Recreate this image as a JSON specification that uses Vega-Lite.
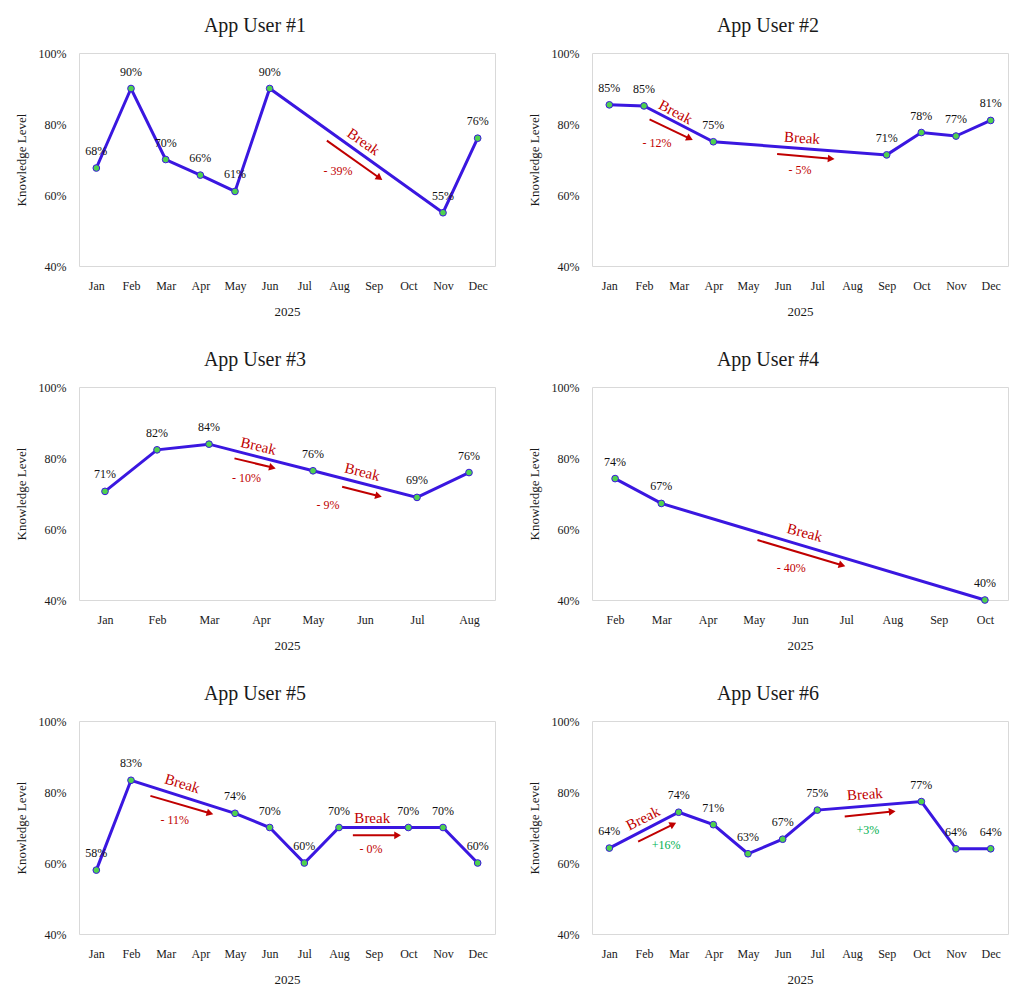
{
"$schema": "https://vega.github.io/schema/vega-lite/v6.json",
"padding": {"left": 14, "top": 15, "right": 14, "bottom": 4},
"background": "white",
"datasets": {
"pts": [
{"user":1,"m":0,"v":0.676},{"user":1,"m":1,"v":0.90},{"user":1,"m":2,"v":0.70},{"user":1,"m":3,"v":0.656},{"user":1,"m":4,"v":0.61},{"user":1,"m":5,"v":0.90},{"user":1,"m":10,"v":0.55},{"user":1,"m":11,"v":0.76},
{"user":2,"m":0,"v":0.854},{"user":2,"m":1,"v":0.851},{"user":2,"m":3,"v":0.75},{"user":2,"m":8,"v":0.713},{"user":2,"m":9,"v":0.776},{"user":2,"m":10,"v":0.766},{"user":2,"m":11,"v":0.81},
{"user":3,"m":0,"v":0.706},{"user":3,"m":1,"v":0.823},{"user":3,"m":2,"v":0.839},{"user":3,"m":4,"v":0.764},{"user":3,"m":6,"v":0.689},{"user":3,"m":7,"v":0.759},
{"user":4,"m":1,"v":0.742},{"user":4,"m":2,"v":0.672},{"user":4,"m":9,"v":0.40},
{"user":5,"m":0,"v":0.58},{"user":5,"m":1,"v":0.833},{"user":5,"m":4,"v":0.74},{"user":5,"m":5,"v":0.70},{"user":5,"m":6,"v":0.60},{"user":5,"m":7,"v":0.70},{"user":5,"m":9,"v":0.70},{"user":5,"m":10,"v":0.70},{"user":5,"m":11,"v":0.60},
{"user":6,"m":0,"v":0.642},{"user":6,"m":2,"v":0.743},{"user":6,"m":3,"v":0.708},{"user":6,"m":4,"v":0.626},{"user":6,"m":5,"v":0.667},{"user":6,"m":6,"v":0.749},{"user":6,"m":9,"v":0.773},{"user":6,"m":10,"v":0.64},{"user":6,"m":11,"v":0.64}
],
"ann": [
{"user":1,"id":"1a","x1":6.65,"y1":0.753,"x2":8.17,"y2":0.648,"bx":7.71,"by":0.75,"lx":6.97,"ly":0.668,"label":"- 39%","dir":"down"},
{"user":2,"id":"2a","x1":1.16,"y1":0.813,"x2":2.32,"y2":0.759,"bx":1.91,"by":0.834,"lx":1.375,"ly":0.747,"label":"- 12%","dir":"down"},
{"user":2,"id":"2b","x1":4.84,"y1":0.7155,"x2":6.40,"y2":0.702,"bx":5.56,"by":0.761,"lx":5.5,"ly":0.6695,"label":"- 5%","dir":"down"},
{"user":3,"id":"3a","x1":2.49,"y1":0.799,"x2":3.22,"y2":0.773,"bx":2.95,"by":0.834,"lx":2.72,"ly":0.744,"label":"- 10%","dir":"down"},
{"user":3,"id":"3b","x1":4.56,"y1":0.719,"x2":5.26,"y2":0.693,"bx":4.95,"by":0.761,"lx":4.29,"ly":0.667,"label":"- 9%","dir":"down"},
{"user":4,"id":"4a","x1":4.08,"y1":0.569,"x2":5.91,"y2":0.498,"bx":5.1,"by":0.59,"lx":4.81,"ly":0.49,"label":"- 40%","dir":"down"},
{"user":5,"id":"5a","x1":1.56,"y1":0.789,"x2":3.28,"y2":0.74,"bx":2.48,"by":0.824,"lx":2.26,"ly":0.721,"label":"- 11%","dir":"down"},
{"user":5,"id":"5b","x1":7.40,"y1":0.678,"x2":8.69,"y2":0.678,"bx":7.96,"by":0.726,"lx":7.92,"ly":0.6385,"label":"- 0%","dir":"down"},
{"user":6,"id":"6a","x1":0.83,"y1":0.66,"x2":1.84,"y2":0.709,"bx":0.97,"by":0.726,"lx":1.64,"ly":0.65,"label":"+16%","dir":"up"},
{"user":6,"id":"6b","x1":6.79,"y1":0.731,"x2":8.16,"y2":0.745,"bx":7.37,"by":0.794,"lx":7.46,"ly":0.693,"label":"+3%","dir":"up"}
]
},
"columns": 2,
"spacing": {"row": 30, "column": 31},
"concat": [
{
"title": "App User #1", "width": 416, "height": 213,
"layer": [
{"data":{"name":"pts"},"transform":[{"filter":"datum.user == 1"}],"mark":{"type":"line","color":"#3a17e0","strokeWidth":3},
 "encoding":{"x":{"field":"m","type":"quantitative","scale":{"domain":[-0.5,11.5],"nice":false},"axis":{"values":[0,1,2,3,4,5,6,7,8,9,10,11],"labelOverlap":false,"labelFlush":false,"labelExpr":"['Jan','Feb','Mar','Apr','May','Jun','Jul','Aug','Sep','Oct','Nov','Dec'][datum.value]","title":"2025"}},
 "y":{"field":"v","type":"quantitative","scale":{"domain":[0.4,1],"nice":false},"axis":{"values":[0.4,0.6,0.8,1],"format":".0%","title":"Knowledge Level"}}}},
{"data":{"name":"pts"},"transform":[{"filter":"datum.user == 1"}],"mark":{"type":"point","filled":true,"fill":"#4fd14f","stroke":"#3a17e0","strokeWidth":1,"size":45,"opacity":1},
 "encoding":{"x":{"field":"m","type":"quantitative","scale":{"domain":[-0.5,11.5],"nice":false},"axis":{"values":[0,1,2,3,4,5,6,7,8,9,10,11],"labelOverlap":false,"labelFlush":false,"labelExpr":"['Jan','Feb','Mar','Apr','May','Jun','Jul','Aug','Sep','Oct','Nov','Dec'][datum.value]","title":"2025"}},"y":{"field":"v","type":"quantitative","scale":{"domain":[0.4,1],"nice":false},"axis":{"values":[0.4,0.6,0.8,1],"format":".0%","title":"Knowledge Level"}}}},
{"data":{"name":"pts"},"transform":[{"filter":"datum.user == 1"}],"mark":{"type":"text","fontSize":12,"dy":-17,"color":"#111111"},
 "encoding":{"x":{"field":"m","type":"quantitative","scale":{"domain":[-0.5,11.5],"nice":false},"axis":{"values":[0,1,2,3,4,5,6,7,8,9,10,11],"labelOverlap":false,"labelFlush":false,"labelExpr":"['Jan','Feb','Mar','Apr','May','Jun','Jul','Aug','Sep','Oct','Nov','Dec'][datum.value]","title":"2025"}},"y":{"field":"v","type":"quantitative","scale":{"domain":[0.4,1],"nice":false},"axis":{"values":[0.4,0.6,0.8,1],"format":".0%","title":"Knowledge Level"}},"text":{"field":"v","format":".0%"}}},
{"data":{"name":"ann"},"transform":[{"filter":"datum.user == 1"}],"mark":{"type":"rule","color":"#c00000","strokeWidth":2},
 "encoding":{"x":{"field":"x1","type":"quantitative","scale":{"domain":[-0.5,11.5],"nice":false},"axis":{"values":[0,1,2,3,4,5,6,7,8,9,10,11],"labelOverlap":false,"labelFlush":false,"labelExpr":"['Jan','Feb','Mar','Apr','May','Jun','Jul','Aug','Sep','Oct','Nov','Dec'][datum.value]","title":"2025"}},"y":{"field":"y1","type":"quantitative","scale":{"domain":[0.4,1],"nice":false},"axis":{"values":[0.4,0.6,0.8,1],"format":".0%","title":"Knowledge Level"}},"x2":{"field":"x2"},"y2":{"field":"y2"}}},
{"data":{"name":"ann"},"transform":[{"filter":"datum.user == 1"}],"mark":{"type":"text","fontSize":12},
 "encoding":{"x":{"field":"lx","type":"quantitative","scale":{"domain":[-0.5,11.5],"nice":false},"axis":{"values":[0,1,2,3,4,5,6,7,8,9,10,11],"labelOverlap":false,"labelFlush":false,"labelExpr":"['Jan','Feb','Mar','Apr','May','Jun','Jul','Aug','Sep','Oct','Nov','Dec'][datum.value]","title":"2025"}},"y":{"field":"ly","type":"quantitative","scale":{"domain":[0.4,1],"nice":false},"axis":{"values":[0.4,0.6,0.8,1],"format":".0%","title":"Knowledge Level"}},"text":{"field":"label"},"color":{"field":"dir","type":"nominal","scale":{"domain":["down","up"],"range":["#c00000","#00b050"]},"legend":null}}},
{"data":{"name":"ann"},"transform":[{"filter":"datum.id == '1a'"}],"mark":{"type":"point","shape":"triangle-right","filled":true,"color":"#c00000","size":60,"opacity":1,"angle":35},
 "encoding":{"x":{"field":"x2","type":"quantitative","scale":{"domain":[-0.5,11.5],"nice":false},"axis":{"values":[0,1,2,3,4,5,6,7,8,9,10,11],"labelOverlap":false,"labelFlush":false,"labelExpr":"['Jan','Feb','Mar','Apr','May','Jun','Jul','Aug','Sep','Oct','Nov','Dec'][datum.value]","title":"2025"}},"y":{"field":"y2","type":"quantitative","scale":{"domain":[0.4,1],"nice":false},"axis":{"values":[0.4,0.6,0.8,1],"format":".0%","title":"Knowledge Level"}}}},
{"data":{"name":"ann"},"transform":[{"filter":"datum.id == '1a'"}],"mark":{"type":"text","text":"Break","fontSize":15,"color":"#c00000","angle":35},
 "encoding":{"x":{"field":"bx","type":"quantitative","scale":{"domain":[-0.5,11.5],"nice":false},"axis":{"values":[0,1,2,3,4,5,6,7,8,9,10,11],"labelOverlap":false,"labelFlush":false,"labelExpr":"['Jan','Feb','Mar','Apr','May','Jun','Jul','Aug','Sep','Oct','Nov','Dec'][datum.value]","title":"2025"}},"y":{"field":"by","type":"quantitative","scale":{"domain":[0.4,1],"nice":false},"axis":{"values":[0.4,0.6,0.8,1],"format":".0%","title":"Knowledge Level"}}}}
]
},
{
"title": "App User #2", "width": 416, "height": 213,
"layer": [
{"data":{"name":"pts"},"transform":[{"filter":"datum.user == 2"}],"mark":{"type":"line","color":"#3a17e0","strokeWidth":3},
 "encoding":{"x":{"field":"m","type":"quantitative","scale":{"domain":[-0.5,11.5],"nice":false},"axis":{"values":[0,1,2,3,4,5,6,7,8,9,10,11],"labelOverlap":false,"labelFlush":false,"labelExpr":"['Jan','Feb','Mar','Apr','May','Jun','Jul','Aug','Sep','Oct','Nov','Dec'][datum.value]","title":"2025"}},
 "y":{"field":"v","type":"quantitative","scale":{"domain":[0.4,1],"nice":false},"axis":{"values":[0.4,0.6,0.8,1],"format":".0%","title":"Knowledge Level"}}}},
{"data":{"name":"pts"},"transform":[{"filter":"datum.user == 2"}],"mark":{"type":"point","filled":true,"fill":"#4fd14f","stroke":"#3a17e0","strokeWidth":1,"size":45,"opacity":1},
 "encoding":{"x":{"field":"m","type":"quantitative","scale":{"domain":[-0.5,11.5],"nice":false},"axis":{"values":[0,1,2,3,4,5,6,7,8,9,10,11],"labelOverlap":false,"labelFlush":false,"labelExpr":"['Jan','Feb','Mar','Apr','May','Jun','Jul','Aug','Sep','Oct','Nov','Dec'][datum.value]","title":"2025"}},"y":{"field":"v","type":"quantitative","scale":{"domain":[0.4,1],"nice":false},"axis":{"values":[0.4,0.6,0.8,1],"format":".0%","title":"Knowledge Level"}}}},
{"data":{"name":"pts"},"transform":[{"filter":"datum.user == 2"}],"mark":{"type":"text","fontSize":12,"dy":-17,"color":"#111111"},
 "encoding":{"x":{"field":"m","type":"quantitative","scale":{"domain":[-0.5,11.5],"nice":false},"axis":{"values":[0,1,2,3,4,5,6,7,8,9,10,11],"labelOverlap":false,"labelFlush":false,"labelExpr":"['Jan','Feb','Mar','Apr','May','Jun','Jul','Aug','Sep','Oct','Nov','Dec'][datum.value]","title":"2025"}},"y":{"field":"v","type":"quantitative","scale":{"domain":[0.4,1],"nice":false},"axis":{"values":[0.4,0.6,0.8,1],"format":".0%","title":"Knowledge Level"}},"text":{"field":"v","format":".0%"}}},
{"data":{"name":"ann"},"transform":[{"filter":"datum.user == 2"}],"mark":{"type":"rule","color":"#c00000","strokeWidth":2},
 "encoding":{"x":{"field":"x1","type":"quantitative","scale":{"domain":[-0.5,11.5],"nice":false},"axis":{"values":[0,1,2,3,4,5,6,7,8,9,10,11],"labelOverlap":false,"labelFlush":false,"labelExpr":"['Jan','Feb','Mar','Apr','May','Jun','Jul','Aug','Sep','Oct','Nov','Dec'][datum.value]","title":"2025"}},"y":{"field":"y1","type":"quantitative","scale":{"domain":[0.4,1],"nice":false},"axis":{"values":[0.4,0.6,0.8,1],"format":".0%","title":"Knowledge Level"}},"x2":{"field":"x2"},"y2":{"field":"y2"}}},
{"data":{"name":"ann"},"transform":[{"filter":"datum.user == 2"}],"mark":{"type":"text","fontSize":12},
 "encoding":{"x":{"field":"lx","type":"quantitative","scale":{"domain":[-0.5,11.5],"nice":false},"axis":{"values":[0,1,2,3,4,5,6,7,8,9,10,11],"labelOverlap":false,"labelFlush":false,"labelExpr":"['Jan','Feb','Mar','Apr','May','Jun','Jul','Aug','Sep','Oct','Nov','Dec'][datum.value]","title":"2025"}},"y":{"field":"ly","type":"quantitative","scale":{"domain":[0.4,1],"nice":false},"axis":{"values":[0.4,0.6,0.8,1],"format":".0%","title":"Knowledge Level"}},"text":{"field":"label"},"color":{"field":"dir","type":"nominal","scale":{"domain":["down","up"],"range":["#c00000","#00b050"]},"legend":null}}},
{"data":{"name":"ann"},"transform":[{"filter":"datum.id == '2a'"}],"mark":{"type":"point","shape":"triangle-right","filled":true,"color":"#c00000","size":60,"opacity":1,"angle":26},
 "encoding":{"x":{"field":"x2","type":"quantitative","scale":{"domain":[-0.5,11.5],"nice":false},"axis":{"values":[0,1,2,3,4,5,6,7,8,9,10,11],"labelOverlap":false,"labelFlush":false,"labelExpr":"['Jan','Feb','Mar','Apr','May','Jun','Jul','Aug','Sep','Oct','Nov','Dec'][datum.value]","title":"2025"}},"y":{"field":"y2","type":"quantitative","scale":{"domain":[0.4,1],"nice":false},"axis":{"values":[0.4,0.6,0.8,1],"format":".0%","title":"Knowledge Level"}}}},
{"data":{"name":"ann"},"transform":[{"filter":"datum.id == '2a'"}],"mark":{"type":"text","text":"Break","fontSize":15,"color":"#c00000","angle":28},
 "encoding":{"x":{"field":"bx","type":"quantitative","scale":{"domain":[-0.5,11.5],"nice":false},"axis":{"values":[0,1,2,3,4,5,6,7,8,9,10,11],"labelOverlap":false,"labelFlush":false,"labelExpr":"['Jan','Feb','Mar','Apr','May','Jun','Jul','Aug','Sep','Oct','Nov','Dec'][datum.value]","title":"2025"}},"y":{"field":"by","type":"quantitative","scale":{"domain":[0.4,1],"nice":false},"axis":{"values":[0.4,0.6,0.8,1],"format":".0%","title":"Knowledge Level"}}}},
{"data":{"name":"ann"},"transform":[{"filter":"datum.id == '2b'"}],"mark":{"type":"point","shape":"triangle-right","filled":true,"color":"#c00000","size":60,"opacity":1,"angle":5},
 "encoding":{"x":{"field":"x2","type":"quantitative","scale":{"domain":[-0.5,11.5],"nice":false},"axis":{"values":[0,1,2,3,4,5,6,7,8,9,10,11],"labelOverlap":false,"labelFlush":false,"labelExpr":"['Jan','Feb','Mar','Apr','May','Jun','Jul','Aug','Sep','Oct','Nov','Dec'][datum.value]","title":"2025"}},"y":{"field":"y2","type":"quantitative","scale":{"domain":[0.4,1],"nice":false},"axis":{"values":[0.4,0.6,0.8,1],"format":".0%","title":"Knowledge Level"}}}},
{"data":{"name":"ann"},"transform":[{"filter":"datum.id == '2b'"}],"mark":{"type":"text","text":"Break","fontSize":15,"color":"#c00000","angle":4},
 "encoding":{"x":{"field":"bx","type":"quantitative","scale":{"domain":[-0.5,11.5],"nice":false},"axis":{"values":[0,1,2,3,4,5,6,7,8,9,10,11],"labelOverlap":false,"labelFlush":false,"labelExpr":"['Jan','Feb','Mar','Apr','May','Jun','Jul','Aug','Sep','Oct','Nov','Dec'][datum.value]","title":"2025"}},"y":{"field":"by","type":"quantitative","scale":{"domain":[0.4,1],"nice":false},"axis":{"values":[0.4,0.6,0.8,1],"format":".0%","title":"Knowledge Level"}}}}
]
},
{
"title": "App User #3", "width": 416, "height": 213,
"layer": [
{"data":{"name":"pts"},"transform":[{"filter":"datum.user == 3"}],"mark":{"type":"line","color":"#3a17e0","strokeWidth":3},
 "encoding":{"x":{"field":"m","type":"quantitative","scale":{"domain":[-0.5,7.5],"nice":false},"axis":{"values":[0,1,2,3,4,5,6,7],"labelOverlap":false,"labelFlush":false,"labelExpr":"['Jan','Feb','Mar','Apr','May','Jun','Jul','Aug','Sep','Oct','Nov','Dec'][datum.value]","title":"2025"}},
 "y":{"field":"v","type":"quantitative","scale":{"domain":[0.4,1],"nice":false},"axis":{"values":[0.4,0.6,0.8,1],"format":".0%","title":"Knowledge Level"}}}},
{"data":{"name":"pts"},"transform":[{"filter":"datum.user == 3"}],"mark":{"type":"point","filled":true,"fill":"#4fd14f","stroke":"#3a17e0","strokeWidth":1,"size":45,"opacity":1},
 "encoding":{"x":{"field":"m","type":"quantitative","scale":{"domain":[-0.5,7.5],"nice":false}},"y":{"field":"v","type":"quantitative","scale":{"domain":[0.4,1],"nice":false}}}},
{"data":{"name":"pts"},"transform":[{"filter":"datum.user == 3"}],"mark":{"type":"text","fontSize":12,"dy":-17,"color":"#111111"},
 "encoding":{"x":{"field":"m","type":"quantitative","scale":{"domain":[-0.5,7.5],"nice":false}},"y":{"field":"v","type":"quantitative","scale":{"domain":[0.4,1],"nice":false}},"text":{"field":"v","format":".0%"}}},
{"data":{"name":"ann"},"transform":[{"filter":"datum.user == 3"}],"mark":{"type":"rule","color":"#c00000","strokeWidth":2},
 "encoding":{"x":{"field":"x1","type":"quantitative","scale":{"domain":[-0.5,7.5],"nice":false}},"y":{"field":"y1","type":"quantitative","scale":{"domain":[0.4,1],"nice":false}},"x2":{"field":"x2"},"y2":{"field":"y2"}}},
{"data":{"name":"ann"},"transform":[{"filter":"datum.user == 3"}],"mark":{"type":"text","fontSize":12},
 "encoding":{"x":{"field":"lx","type":"quantitative","scale":{"domain":[-0.5,7.5],"nice":false}},"y":{"field":"ly","type":"quantitative","scale":{"domain":[0.4,1],"nice":false}},"text":{"field":"label"},"color":{"field":"dir","type":"nominal","scale":{"domain":["down","up"],"range":["#c00000","#00b050"]},"legend":null}}},
{"data":{"name":"ann"},"transform":[{"filter":"datum.id == '3a'"}],"mark":{"type":"point","shape":"triangle-right","filled":true,"color":"#c00000","size":60,"opacity":1,"angle":14},
 "encoding":{"x":{"field":"x2","type":"quantitative","scale":{"domain":[-0.5,7.5],"nice":false}},"y":{"field":"y2","type":"quantitative","scale":{"domain":[0.4,1],"nice":false}}}},
{"data":{"name":"ann"},"transform":[{"filter":"datum.id == '3a'"}],"mark":{"type":"text","text":"Break","fontSize":15,"color":"#c00000","angle":13},
 "encoding":{"x":{"field":"bx","type":"quantitative","scale":{"domain":[-0.5,7.5],"nice":false}},"y":{"field":"by","type":"quantitative","scale":{"domain":[0.4,1],"nice":false}}}},
{"data":{"name":"ann"},"transform":[{"filter":"datum.id == '3b'"}],"mark":{"type":"point","shape":"triangle-right","filled":true,"color":"#c00000","size":60,"opacity":1,"angle":14.5},
 "encoding":{"x":{"field":"x2","type":"quantitative","scale":{"domain":[-0.5,7.5],"nice":false}},"y":{"field":"y2","type":"quantitative","scale":{"domain":[0.4,1],"nice":false}}}},
{"data":{"name":"ann"},"transform":[{"filter":"datum.id == '3b'"}],"mark":{"type":"text","text":"Break","fontSize":15,"color":"#c00000","angle":14},
 "encoding":{"x":{"field":"bx","type":"quantitative","scale":{"domain":[-0.5,7.5],"nice":false}},"y":{"field":"by","type":"quantitative","scale":{"domain":[0.4,1],"nice":false}}}}
]
},
{
"title": "App User #4", "width": 416, "height": 213,
"layer": [
{"data":{"name":"pts"},"transform":[{"filter":"datum.user == 4"}],"mark":{"type":"line","color":"#3a17e0","strokeWidth":3},
 "encoding":{"x":{"field":"m","type":"quantitative","scale":{"domain":[0.5,9.5],"nice":false},"axis":{"values":[1,2,3,4,5,6,7,8,9],"labelOverlap":false,"labelFlush":false,"labelExpr":"['Jan','Feb','Mar','Apr','May','Jun','Jul','Aug','Sep','Oct','Nov','Dec'][datum.value]","title":"2025"}},
 "y":{"field":"v","type":"quantitative","scale":{"domain":[0.4,1],"nice":false},"axis":{"values":[0.4,0.6,0.8,1],"format":".0%","title":"Knowledge Level"}}}},
{"data":{"name":"pts"},"transform":[{"filter":"datum.user == 4"}],"mark":{"type":"point","filled":true,"fill":"#4fd14f","stroke":"#3a17e0","strokeWidth":1,"size":45,"opacity":1},
 "encoding":{"x":{"field":"m","type":"quantitative","scale":{"domain":[0.5,9.5],"nice":false}},"y":{"field":"v","type":"quantitative","scale":{"domain":[0.4,1],"nice":false}}}},
{"data":{"name":"pts"},"transform":[{"filter":"datum.user == 4"}],"mark":{"type":"text","fontSize":12,"dy":-17,"color":"#111111"},
 "encoding":{"x":{"field":"m","type":"quantitative","scale":{"domain":[0.5,9.5],"nice":false}},"y":{"field":"v","type":"quantitative","scale":{"domain":[0.4,1],"nice":false}},"text":{"field":"v","format":".0%"}}},
{"data":{"name":"ann"},"transform":[{"filter":"datum.user == 4"}],"mark":{"type":"rule","color":"#c00000","strokeWidth":2},
 "encoding":{"x":{"field":"x1","type":"quantitative","scale":{"domain":[0.5,9.5],"nice":false}},"y":{"field":"y1","type":"quantitative","scale":{"domain":[0.4,1],"nice":false}},"x2":{"field":"x2"},"y2":{"field":"y2"}}},
{"data":{"name":"ann"},"transform":[{"filter":"datum.user == 4"}],"mark":{"type":"text","fontSize":12},
 "encoding":{"x":{"field":"lx","type":"quantitative","scale":{"domain":[0.5,9.5],"nice":false}},"y":{"field":"ly","type":"quantitative","scale":{"domain":[0.4,1],"nice":false}},"text":{"field":"label"},"color":{"field":"dir","type":"nominal","scale":{"domain":["down","up"],"range":["#c00000","#00b050"]},"legend":null}}},
{"data":{"name":"ann"},"transform":[{"filter":"datum.id == '4a'"}],"mark":{"type":"point","shape":"triangle-right","filled":true,"color":"#c00000","size":60,"opacity":1,"angle":16.7},
 "encoding":{"x":{"field":"x2","type":"quantitative","scale":{"domain":[0.5,9.5],"nice":false}},"y":{"field":"y2","type":"quantitative","scale":{"domain":[0.4,1],"nice":false}}}},
{"data":{"name":"ann"},"transform":[{"filter":"datum.id == '4a'"}],"mark":{"type":"text","text":"Break","fontSize":15,"color":"#c00000","angle":15},
 "encoding":{"x":{"field":"bx","type":"quantitative","scale":{"domain":[0.5,9.5],"nice":false}},"y":{"field":"by","type":"quantitative","scale":{"domain":[0.4,1],"nice":false}}}}
]
},
{
"title": "App User #5", "width": 416, "height": 213,
"layer": [
{"data":{"name":"pts"},"transform":[{"filter":"datum.user == 5"}],"mark":{"type":"line","color":"#3a17e0","strokeWidth":3},
 "encoding":{"x":{"field":"m","type":"quantitative","scale":{"domain":[-0.5,11.5],"nice":false},"axis":{"values":[0,1,2,3,4,5,6,7,8,9,10,11],"labelOverlap":false,"labelFlush":false,"labelExpr":"['Jan','Feb','Mar','Apr','May','Jun','Jul','Aug','Sep','Oct','Nov','Dec'][datum.value]","title":"2025"}},
 "y":{"field":"v","type":"quantitative","scale":{"domain":[0.4,1],"nice":false},"axis":{"values":[0.4,0.6,0.8,1],"format":".0%","title":"Knowledge Level"}}}},
{"data":{"name":"pts"},"transform":[{"filter":"datum.user == 5"}],"mark":{"type":"point","filled":true,"fill":"#4fd14f","stroke":"#3a17e0","strokeWidth":1,"size":45,"opacity":1},
 "encoding":{"x":{"field":"m","type":"quantitative","scale":{"domain":[-0.5,11.5],"nice":false},"axis":{"values":[0,1,2,3,4,5,6,7,8,9,10,11],"labelOverlap":false,"labelFlush":false,"labelExpr":"['Jan','Feb','Mar','Apr','May','Jun','Jul','Aug','Sep','Oct','Nov','Dec'][datum.value]","title":"2025"}},"y":{"field":"v","type":"quantitative","scale":{"domain":[0.4,1],"nice":false},"axis":{"values":[0.4,0.6,0.8,1],"format":".0%","title":"Knowledge Level"}}}},
{"data":{"name":"pts"},"transform":[{"filter":"datum.user == 5"}],"mark":{"type":"text","fontSize":12,"dy":-17,"color":"#111111"},
 "encoding":{"x":{"field":"m","type":"quantitative","scale":{"domain":[-0.5,11.5],"nice":false},"axis":{"values":[0,1,2,3,4,5,6,7,8,9,10,11],"labelOverlap":false,"labelFlush":false,"labelExpr":"['Jan','Feb','Mar','Apr','May','Jun','Jul','Aug','Sep','Oct','Nov','Dec'][datum.value]","title":"2025"}},"y":{"field":"v","type":"quantitative","scale":{"domain":[0.4,1],"nice":false},"axis":{"values":[0.4,0.6,0.8,1],"format":".0%","title":"Knowledge Level"}},"text":{"field":"v","format":".0%"}}},
{"data":{"name":"ann"},"transform":[{"filter":"datum.user == 5"}],"mark":{"type":"rule","color":"#c00000","strokeWidth":2},
 "encoding":{"x":{"field":"x1","type":"quantitative","scale":{"domain":[-0.5,11.5],"nice":false},"axis":{"values":[0,1,2,3,4,5,6,7,8,9,10,11],"labelOverlap":false,"labelFlush":false,"labelExpr":"['Jan','Feb','Mar','Apr','May','Jun','Jul','Aug','Sep','Oct','Nov','Dec'][datum.value]","title":"2025"}},"y":{"field":"y1","type":"quantitative","scale":{"domain":[0.4,1],"nice":false},"axis":{"values":[0.4,0.6,0.8,1],"format":".0%","title":"Knowledge Level"}},"x2":{"field":"x2"},"y2":{"field":"y2"}}},
{"data":{"name":"ann"},"transform":[{"filter":"datum.user == 5"}],"mark":{"type":"text","fontSize":12},
 "encoding":{"x":{"field":"lx","type":"quantitative","scale":{"domain":[-0.5,11.5],"nice":false},"axis":{"values":[0,1,2,3,4,5,6,7,8,9,10,11],"labelOverlap":false,"labelFlush":false,"labelExpr":"['Jan','Feb','Mar','Apr','May','Jun','Jul','Aug','Sep','Oct','Nov','Dec'][datum.value]","title":"2025"}},"y":{"field":"ly","type":"quantitative","scale":{"domain":[0.4,1],"nice":false},"axis":{"values":[0.4,0.6,0.8,1],"format":".0%","title":"Knowledge Level"}},"text":{"field":"label"},"color":{"field":"dir","type":"nominal","scale":{"domain":["down","up"],"range":["#c00000","#00b050"]},"legend":null}}},
{"data":{"name":"ann"},"transform":[{"filter":"datum.id == '5a'"}],"mark":{"type":"point","shape":"triangle-right","filled":true,"color":"#c00000","size":60,"opacity":1,"angle":16},
 "encoding":{"x":{"field":"x2","type":"quantitative","scale":{"domain":[-0.5,11.5],"nice":false},"axis":{"values":[0,1,2,3,4,5,6,7,8,9,10,11],"labelOverlap":false,"labelFlush":false,"labelExpr":"['Jan','Feb','Mar','Apr','May','Jun','Jul','Aug','Sep','Oct','Nov','Dec'][datum.value]","title":"2025"}},"y":{"field":"y2","type":"quantitative","scale":{"domain":[0.4,1],"nice":false},"axis":{"values":[0.4,0.6,0.8,1],"format":".0%","title":"Knowledge Level"}}}},
{"data":{"name":"ann"},"transform":[{"filter":"datum.id == '5a'"}],"mark":{"type":"text","text":"Break","fontSize":15,"color":"#c00000","angle":17},
 "encoding":{"x":{"field":"bx","type":"quantitative","scale":{"domain":[-0.5,11.5],"nice":false},"axis":{"values":[0,1,2,3,4,5,6,7,8,9,10,11],"labelOverlap":false,"labelFlush":false,"labelExpr":"['Jan','Feb','Mar','Apr','May','Jun','Jul','Aug','Sep','Oct','Nov','Dec'][datum.value]","title":"2025"}},"y":{"field":"by","type":"quantitative","scale":{"domain":[0.4,1],"nice":false},"axis":{"values":[0.4,0.6,0.8,1],"format":".0%","title":"Knowledge Level"}}}},
{"data":{"name":"ann"},"transform":[{"filter":"datum.id == '5b'"}],"mark":{"type":"point","shape":"triangle-right","filled":true,"color":"#c00000","size":60,"opacity":1,"angle":0},
 "encoding":{"x":{"field":"x2","type":"quantitative","scale":{"domain":[-0.5,11.5],"nice":false},"axis":{"values":[0,1,2,3,4,5,6,7,8,9,10,11],"labelOverlap":false,"labelFlush":false,"labelExpr":"['Jan','Feb','Mar','Apr','May','Jun','Jul','Aug','Sep','Oct','Nov','Dec'][datum.value]","title":"2025"}},"y":{"field":"y2","type":"quantitative","scale":{"domain":[0.4,1],"nice":false},"axis":{"values":[0.4,0.6,0.8,1],"format":".0%","title":"Knowledge Level"}}}},
{"data":{"name":"ann"},"transform":[{"filter":"datum.id == '5b'"}],"mark":{"type":"text","text":"Break","fontSize":15,"color":"#c00000","angle":0},
 "encoding":{"x":{"field":"bx","type":"quantitative","scale":{"domain":[-0.5,11.5],"nice":false},"axis":{"values":[0,1,2,3,4,5,6,7,8,9,10,11],"labelOverlap":false,"labelFlush":false,"labelExpr":"['Jan','Feb','Mar','Apr','May','Jun','Jul','Aug','Sep','Oct','Nov','Dec'][datum.value]","title":"2025"}},"y":{"field":"by","type":"quantitative","scale":{"domain":[0.4,1],"nice":false},"axis":{"values":[0.4,0.6,0.8,1],"format":".0%","title":"Knowledge Level"}}}}
]
},
{
"title": "App User #6", "width": 416, "height": 213,
"layer": [
{"data":{"name":"pts"},"transform":[{"filter":"datum.user == 6"}],"mark":{"type":"line","color":"#3a17e0","strokeWidth":3},
 "encoding":{"x":{"field":"m","type":"quantitative","scale":{"domain":[-0.5,11.5],"nice":false},"axis":{"values":[0,1,2,3,4,5,6,7,8,9,10,11],"labelOverlap":false,"labelFlush":false,"labelExpr":"['Jan','Feb','Mar','Apr','May','Jun','Jul','Aug','Sep','Oct','Nov','Dec'][datum.value]","title":"2025"}},
 "y":{"field":"v","type":"quantitative","scale":{"domain":[0.4,1],"nice":false},"axis":{"values":[0.4,0.6,0.8,1],"format":".0%","title":"Knowledge Level"}}}},
{"data":{"name":"pts"},"transform":[{"filter":"datum.user == 6"}],"mark":{"type":"point","filled":true,"fill":"#4fd14f","stroke":"#3a17e0","strokeWidth":1,"size":45,"opacity":1},
 "encoding":{"x":{"field":"m","type":"quantitative","scale":{"domain":[-0.5,11.5],"nice":false},"axis":{"values":[0,1,2,3,4,5,6,7,8,9,10,11],"labelOverlap":false,"labelFlush":false,"labelExpr":"['Jan','Feb','Mar','Apr','May','Jun','Jul','Aug','Sep','Oct','Nov','Dec'][datum.value]","title":"2025"}},"y":{"field":"v","type":"quantitative","scale":{"domain":[0.4,1],"nice":false},"axis":{"values":[0.4,0.6,0.8,1],"format":".0%","title":"Knowledge Level"}}}},
{"data":{"name":"pts"},"transform":[{"filter":"datum.user == 6"}],"mark":{"type":"text","fontSize":12,"dy":-17,"color":"#111111"},
 "encoding":{"x":{"field":"m","type":"quantitative","scale":{"domain":[-0.5,11.5],"nice":false},"axis":{"values":[0,1,2,3,4,5,6,7,8,9,10,11],"labelOverlap":false,"labelFlush":false,"labelExpr":"['Jan','Feb','Mar','Apr','May','Jun','Jul','Aug','Sep','Oct','Nov','Dec'][datum.value]","title":"2025"}},"y":{"field":"v","type":"quantitative","scale":{"domain":[0.4,1],"nice":false},"axis":{"values":[0.4,0.6,0.8,1],"format":".0%","title":"Knowledge Level"}},"text":{"field":"v","format":".0%"}}},
{"data":{"name":"ann"},"transform":[{"filter":"datum.user == 6"}],"mark":{"type":"rule","color":"#c00000","strokeWidth":2},
 "encoding":{"x":{"field":"x1","type":"quantitative","scale":{"domain":[-0.5,11.5],"nice":false},"axis":{"values":[0,1,2,3,4,5,6,7,8,9,10,11],"labelOverlap":false,"labelFlush":false,"labelExpr":"['Jan','Feb','Mar','Apr','May','Jun','Jul','Aug','Sep','Oct','Nov','Dec'][datum.value]","title":"2025"}},"y":{"field":"y1","type":"quantitative","scale":{"domain":[0.4,1],"nice":false},"axis":{"values":[0.4,0.6,0.8,1],"format":".0%","title":"Knowledge Level"}},"x2":{"field":"x2"},"y2":{"field":"y2"}}},
{"data":{"name":"ann"},"transform":[{"filter":"datum.user == 6"}],"mark":{"type":"text","fontSize":12},
 "encoding":{"x":{"field":"lx","type":"quantitative","scale":{"domain":[-0.5,11.5],"nice":false},"axis":{"values":[0,1,2,3,4,5,6,7,8,9,10,11],"labelOverlap":false,"labelFlush":false,"labelExpr":"['Jan','Feb','Mar','Apr','May','Jun','Jul','Aug','Sep','Oct','Nov','Dec'][datum.value]","title":"2025"}},"y":{"field":"ly","type":"quantitative","scale":{"domain":[0.4,1],"nice":false},"axis":{"values":[0.4,0.6,0.8,1],"format":".0%","title":"Knowledge Level"}},"text":{"field":"label"},"color":{"field":"dir","type":"nominal","scale":{"domain":["down","up"],"range":["#c00000","#00b050"]},"legend":null}}},
{"data":{"name":"ann"},"transform":[{"filter":"datum.id == '6a'"}],"mark":{"type":"point","shape":"triangle-right","filled":true,"color":"#c00000","size":60,"opacity":1,"angle":-26},
 "encoding":{"x":{"field":"x2","type":"quantitative","scale":{"domain":[-0.5,11.5],"nice":false},"axis":{"values":[0,1,2,3,4,5,6,7,8,9,10,11],"labelOverlap":false,"labelFlush":false,"labelExpr":"['Jan','Feb','Mar','Apr','May','Jun','Jul','Aug','Sep','Oct','Nov','Dec'][datum.value]","title":"2025"}},"y":{"field":"y2","type":"quantitative","scale":{"domain":[0.4,1],"nice":false},"axis":{"values":[0.4,0.6,0.8,1],"format":".0%","title":"Knowledge Level"}}}},
{"data":{"name":"ann"},"transform":[{"filter":"datum.id == '6a'"}],"mark":{"type":"text","text":"Break","fontSize":15,"color":"#c00000","angle":-27},
 "encoding":{"x":{"field":"bx","type":"quantitative","scale":{"domain":[-0.5,11.5],"nice":false},"axis":{"values":[0,1,2,3,4,5,6,7,8,9,10,11],"labelOverlap":false,"labelFlush":false,"labelExpr":"['Jan','Feb','Mar','Apr','May','Jun','Jul','Aug','Sep','Oct','Nov','Dec'][datum.value]","title":"2025"}},"y":{"field":"by","type":"quantitative","scale":{"domain":[0.4,1],"nice":false},"axis":{"values":[0.4,0.6,0.8,1],"format":".0%","title":"Knowledge Level"}}}},
{"data":{"name":"ann"},"transform":[{"filter":"datum.id == '6b'"}],"mark":{"type":"point","shape":"triangle-right","filled":true,"color":"#c00000","size":60,"opacity":1,"angle":-5.6},
 "encoding":{"x":{"field":"x2","type":"quantitative","scale":{"domain":[-0.5,11.5],"nice":false},"axis":{"values":[0,1,2,3,4,5,6,7,8,9,10,11],"labelOverlap":false,"labelFlush":false,"labelExpr":"['Jan','Feb','Mar','Apr','May','Jun','Jul','Aug','Sep','Oct','Nov','Dec'][datum.value]","title":"2025"}},"y":{"field":"y2","type":"quantitative","scale":{"domain":[0.4,1],"nice":false},"axis":{"values":[0.4,0.6,0.8,1],"format":".0%","title":"Knowledge Level"}}}},
{"data":{"name":"ann"},"transform":[{"filter":"datum.id == '6b'"}],"mark":{"type":"text","text":"Break","fontSize":15,"color":"#c00000","angle":-4},
 "encoding":{"x":{"field":"bx","type":"quantitative","scale":{"domain":[-0.5,11.5],"nice":false},"axis":{"values":[0,1,2,3,4,5,6,7,8,9,10,11],"labelOverlap":false,"labelFlush":false,"labelExpr":"['Jan','Feb','Mar','Apr','May','Jun','Jul','Aug','Sep','Oct','Nov','Dec'][datum.value]","title":"2025"}},"y":{"field":"by","type":"quantitative","scale":{"domain":[0.4,1],"nice":false},"axis":{"values":[0.4,0.6,0.8,1],"format":".0%","title":"Knowledge Level"}}}}
]
}
],
"config": {
"font": "Liberation Serif",
"view": {"stroke": "#d9d9d9", "strokeWidth": 1},
"axis": {"domain": false, "ticks": false, "grid": false, "labelFont": "Liberation Serif", "labelFontSize": 12, "labelColor": "#1a1a1a", "titleFont": "Liberation Serif", "titleFontSize": 13, "titleFontWeight": "normal", "titleColor": "#1a1a1a", "labelFlush": false, "labelOverlap": false},
"axisX": {"labelPadding": 14, "titlePadding": 14},
"axisY": {"labelPadding": 13, "titlePadding": 10},
"title": {"font": "Liberation Serif", "fontSize": 20, "fontWeight": "normal", "color": "#1a1a1a", "anchor": "middle", "frame": "bounds", "offset": 11},
"text": {"font": "Liberation Serif"}
}
}
